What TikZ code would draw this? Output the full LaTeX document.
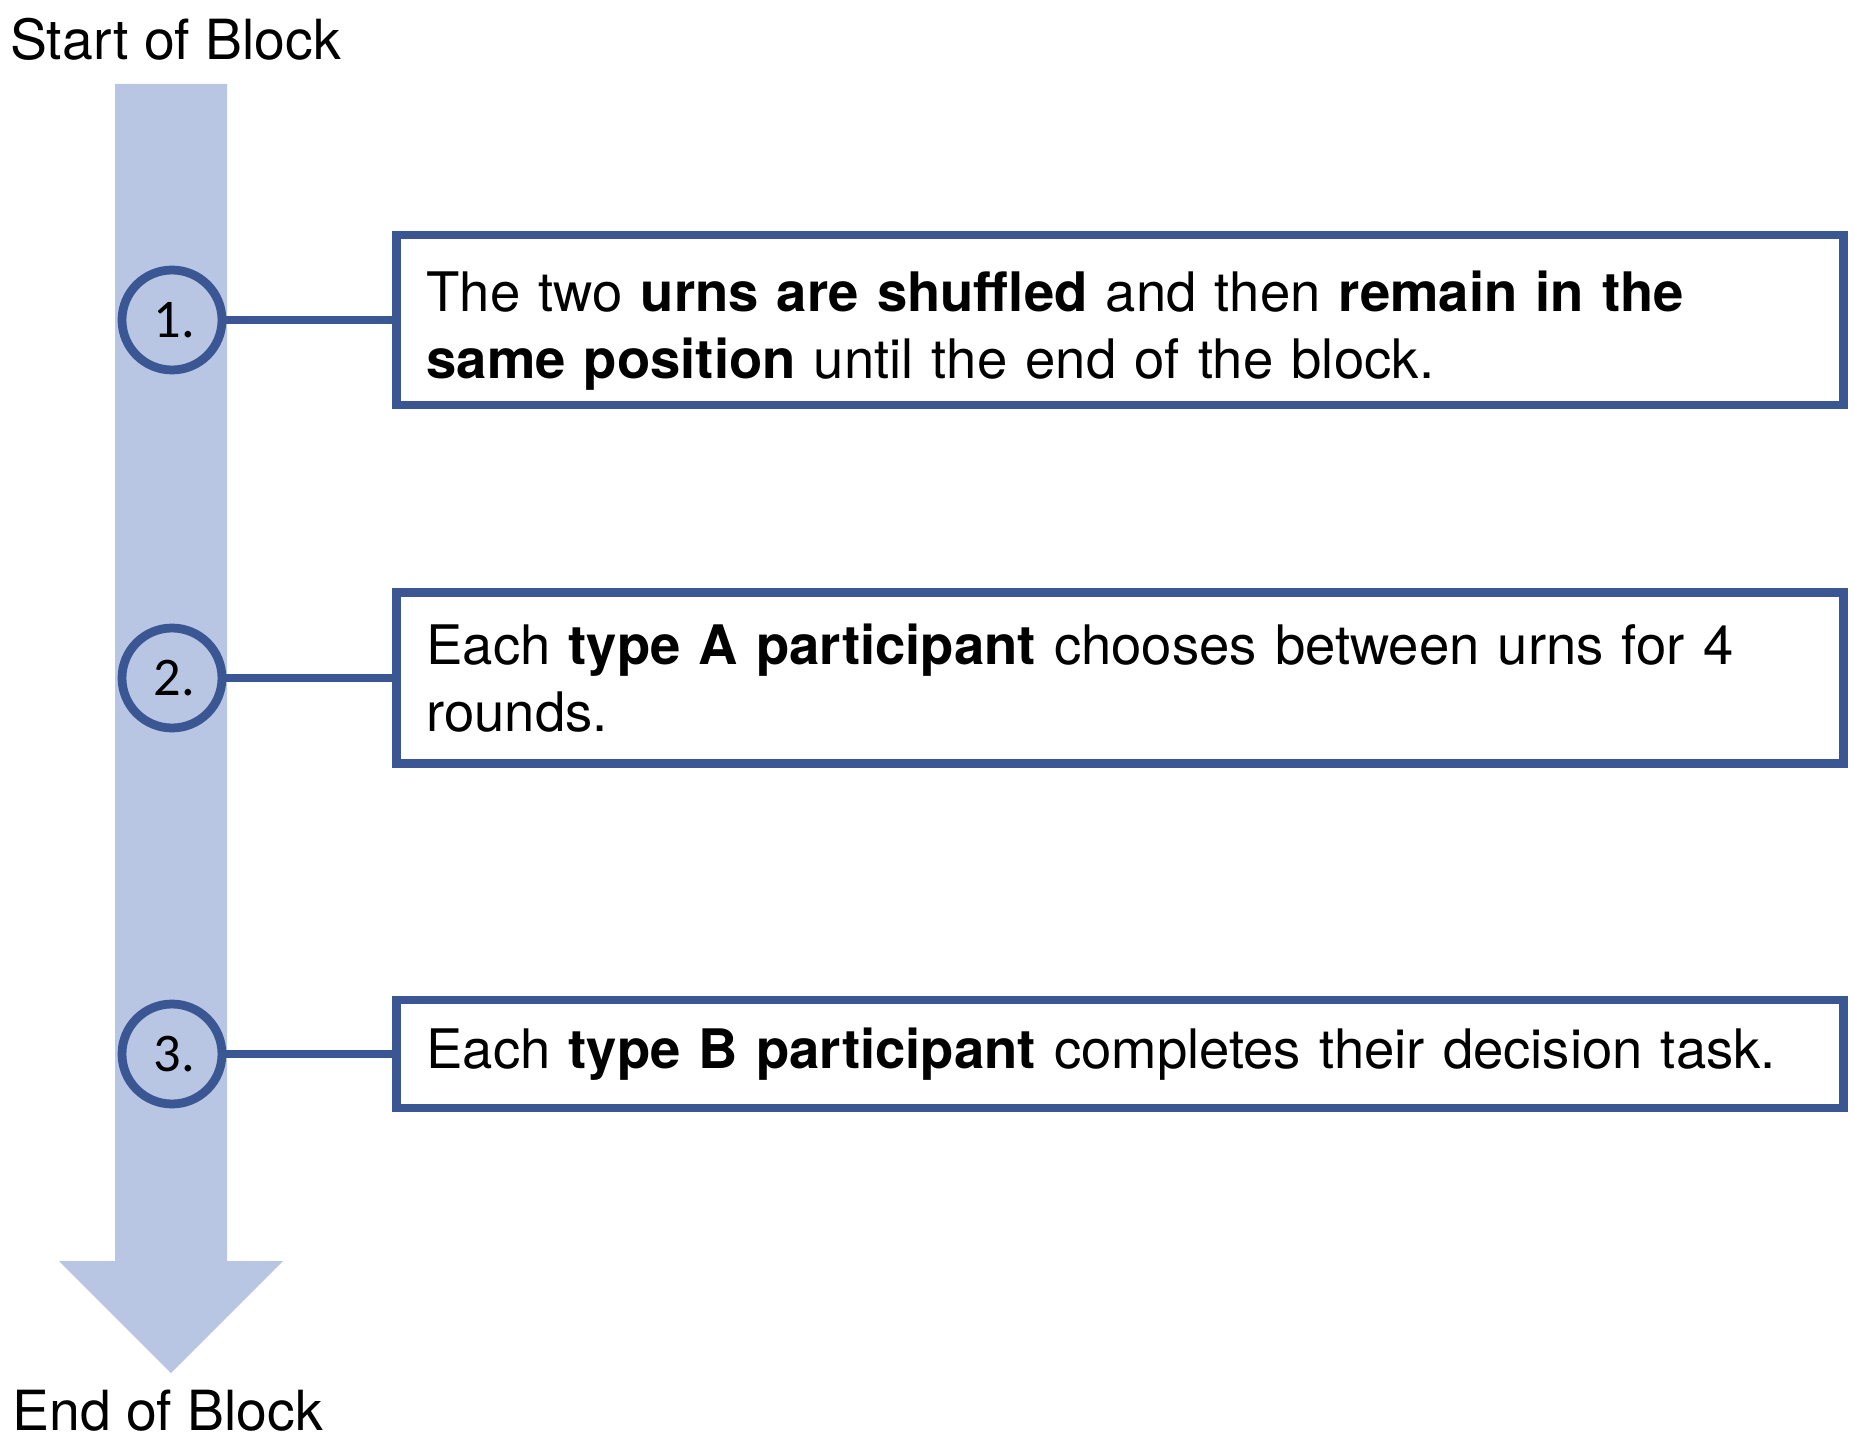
\documentclass[tikz,border=0pt]{standalone}
\usepackage{fontspec}
\setmainfont{TeX Gyre Heros}
\newfontfamily\numfont{Carlito}
\usepackage{tikz}
\usetikzlibrary{calc,positioning}
\definecolor{stepblue}{HTML}{3A5794}
\definecolor{lightblue}{HTML}{B8C6E4}

\begin{document}
\begin{tikzpicture}[
x=0.02cm, y=-0.02cm,
num/.style={
	circle, draw=stepblue, fill=lightblue, line width=5pt,
	minimum size=2cm, inner sep=0pt,
	font=\numfont\fontsize{31}{32}\selectfont
},
stepbox/.style={
	rectangle, draw=stepblue, line width=5.1pt, fill=white,
	anchor=west, align=left, inner xsep=0.6cm,
	text width=27.74cm,
	font=\fontsize{31}{38}\selectfont
},
label/.style={anchor=base west, inner sep=0pt, font=\fontsize{31.5}{38}\selectfont}
]
\useasboundingbox (0,0) rectangle (1854,1446);
% time arrow
\fill[lightblue] (115,84) -- (227,84) -- (227,1261) -- (283,1261)
	-- (171,1373) -- (59,1261) -- (115,1261) -- cycle;
\node[label] (start) at (10,60) {Start of Block};
\node[label] (end) at (12,1430) {End of Block};
% steps
\node[num] (c1) at (172,320) {\hspace{3pt}1.};
\node[num] (c2) at (172,678) {\hspace{3pt}2.};
\node[num] (c3) at (172,1054) {\hspace{3pt}3.};
\node[stepbox, minimum height=3.4cm, text depth=33pt] (b1) at (392,320)
	{The two \textbf{urns are shuffled} and then \textbf{remain in the}\\
	\textbf{same position} until the end of the block.};
\node[stepbox, minimum height=3.42cm] (b2) at (392,678)
	{Each \textbf{type A participant} chooses between urns for 4\\
	rounds.};
\node[stepbox, minimum height=2.16cm] (b3) at (392,1054)
	{Each \textbf{type B participant} completes their decision task.};
\foreach \i in {1,2,3}
{
	\draw[stepblue, line width=5.1pt] (c\i.east) -- (b\i.west);
}
\end{tikzpicture}
\end{document}
